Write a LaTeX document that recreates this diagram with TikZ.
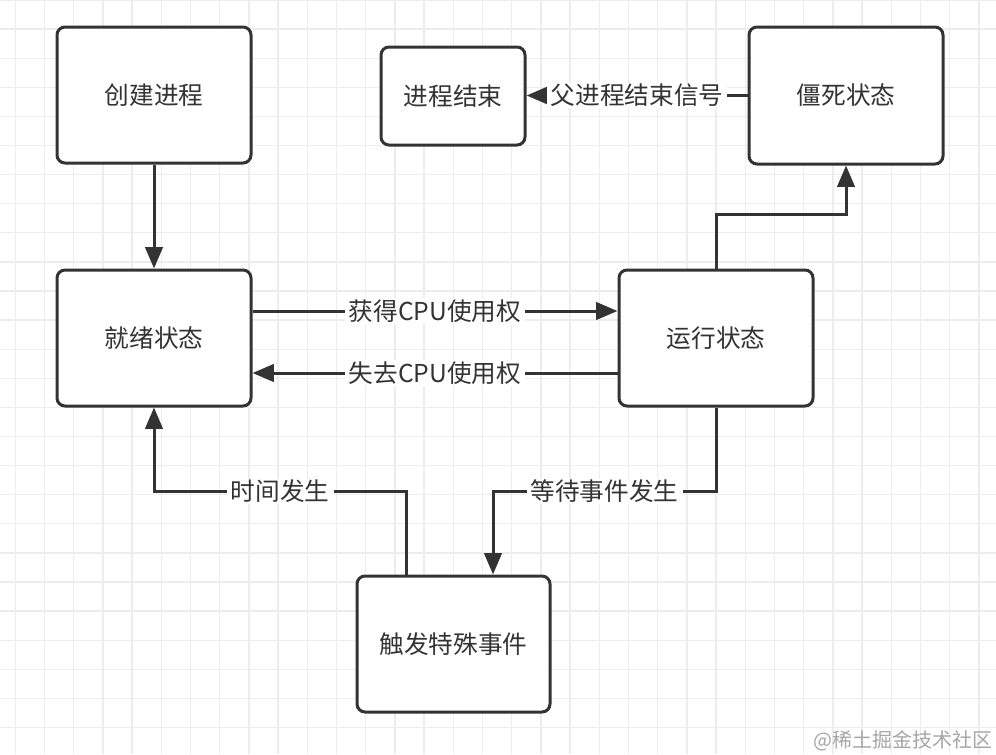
\documentclass[tikz,border=0pt]{standalone}
\usepackage{fontspec}
\setmainfont{Noto Sans CJK SC}
\usetikzlibrary{arrows.meta,calc}
\definecolor{ink}{HTML}{333333}
\definecolor{gridc}{HTML}{EDEDED}
\definecolor{wm}{HTML}{A6A6A6}
\begin{document}
\begin{tikzpicture}[x=0.75pt,y=-0.75pt,
  box/.style={draw=ink, line width=2.25pt, rounded corners=6pt, fill=white, text=ink,
    font=\fontsize{18.5}{22}\selectfont, inner sep=0pt},
  conn/.style={draw=ink, line width=2.25pt},
  arr/.style={conn, -{Triangle[length=16pt,width=13pt]}},
  lbl/.style={fill=white, text=ink, font=\fontsize{18.5}{22}\selectfont, inner xsep=3pt, inner ysep=1pt}]
\useasboundingbox (0,0) rectangle (996,754);
\fill[white] (0,0) rectangle (996,754);
\foreach \k in {0,...,33} \draw[gridc, line width=1pt] ({15.3+\k*29.2},0) -- ({15.3+\k*29.2},754);
\foreach \k in {0,...,25} \draw[gridc, line width=1pt] (0,{0+\k*29.1}) -- (996,{0+\k*29.1});

\node[box, minimum width=145.5pt, minimum height=102pt] (create) at (154,95) {创建进程};
\node[box, minimum width=108pt, minimum height=73.5pt] (end) at (453,96) {进程结束};
\node[box, minimum width=145.5pt, minimum height=102.75pt] (zombie) at (846,95.5) {僵死状态};
\node[box, minimum width=145.5pt, minimum height=102pt] (ready) at (154,338) {就绪状态};
\node[box, minimum width=145.5pt, minimum height=102pt] (run) at (716,338) {运行状态};
\node[box, minimum width=144.75pt, minimum height=102pt] (trig) at (453.5,644) {触发特殊事件};

\draw[arr] (create) -- (ready);
\draw[arr] ($(ready.east)+(0,-27)$) -- node[lbl]{获得CPU使用权} ($(run.west)+(0,-27)$);
\draw[arr] ($(run.west)+(0,35)$) -- node[lbl]{失去CPU使用权} ($(ready.east)+(0,35)$);
\draw[arr] (run.north) -- ++(0,-54) -| (zombie.south);
\draw[arr] (zombie.west) -- node[lbl]{父进程结束信号} (zombie.west -| end.east);

\coordinate (w1) at ($(run.south)+(0,84)$);
\coordinate (w2) at ($(trig.north)+(39.5,0)$);
\draw[arr] (run.south) -- (w1) -- node[lbl]{等待事件发生} (w1 -| w2) -- (w2);

\coordinate (t1) at ($(trig.north)+(-47,0)$);
\coordinate (t2) at (t1 |- w1);
\draw[arr] (t1) -- (t2) -- node[lbl]{时间发生} (t2 -| ready.south) -- (ready.south);

\node[text=wm, font=\fontsize{15}{15}\selectfont, anchor=east, inner sep=0pt] (wm) at (993,741) {@稀土掘金技术社区};
\end{tikzpicture}
\end{document}
